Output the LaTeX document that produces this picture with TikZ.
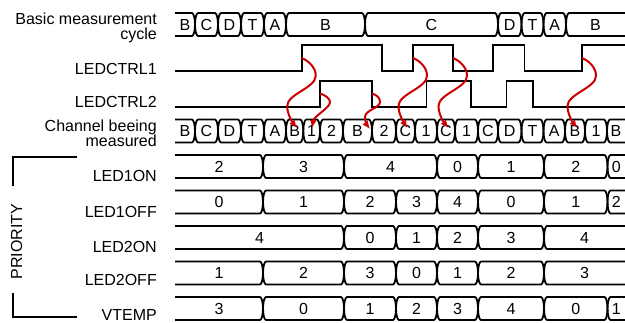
\documentclass[tikz,border=0pt]{standalone}
\usepackage{fontspec}
\setmainfont{Liberation Sans}
\usetikzlibrary{arrows.meta}
\definecolor{arrowred}{RGB}{204,0,0}
\newcommand\tdrow[4]{%
  \foreach \xa/\xb/\lab [count=\i] in {#4}{%
    \pgfmathsetmacro\sa{\xa-15*(\xa<176)}%
    \pgfmathsetmacro\sb{\xb+15*(\xb>624)}%
    \pgfmathsetmacro\ym{(#2+#3)/2}%
    \pgfmathsetmacro\cx{(\xa+\xb)/2}%
    \draw[cellline] (\sa,\ym) .. controls (\sa,#2+5) and (\sa+1.5,#2) .. (\sa+3,#2) -- (\sb-3,#2) .. controls (\sb-1.5,#2) and (\sb,#2+5) .. (\sb,\ym) .. controls (\sb,#3-5) and (\sb-1.5,#3) .. (\sb-3,#3) -- (\sa+3,#3) .. controls (\sa+1.5,#3) and (\sa,#3-5) .. cycle;
    \node[celltext] (#1-\i) at (\cx,\ym) {\lab};
  }}
\begin{document}
\begin{tikzpicture}[x=1pt,y=-1pt,
  cellline/.style={line width=1.8pt, line join=round},
  celltext/.style={font=\fontsize{16}{19}\selectfont, inner sep=0pt},
  lbl/.style={font=\fontsize{16}{19}\selectfont, inner sep=0pt, anchor=base east},
  wave/.style={line width=1.8pt},
  redarrow/.style={draw=arrowred, line width=2pt, -{Latex[length=8pt,width=7pt]}},
  bracket/.style={line width=1.8pt}]
\useasboundingbox (0,0) rectangle (625,322);

% labels
\node[lbl] (l1) at (157,24) {Basic measurement};
\node[lbl] (l2) at (157,39.5) {cycle};
\node[lbl] (l3) at (157,74) {LEDCTRL1};
\node[lbl] (l4) at (157,107.5) {LEDCTRL2};
\node[lbl] (l5) at (157,131) {Channel beeing};
\node[lbl] (l6) at (157,146.5) {measured};
\node[lbl] (l7) at (157,181) {LED1ON};
\node[lbl] (l8) at (157,217) {LED1OFF};
\node[lbl] (l9) at (157,252) {LED2ON};
\node[lbl] (l10) at (157,285) {LED2OFF};
\node[lbl] (l11) at (157,320) {VTEMP};

% priority bracket
\draw[bracket] (77,157) -- (13.3,157) -- (13.3,186);
\draw[bracket] (13.3,293) -- (13.3,316.7) -- (77,316.7);
\node[celltext, rotate=90] (prio) at (16.5,241.5) {PRIORITY};

\begin{scope}
\clip (175,0) rectangle (625,322);
\tdrow{top}{13}{36}{175/195/B, 195/218/C, 218/241/D, 241/264/T, 264/286/A, 286/365/B, 365/498/C, 498/521.5/D, 521.5/543.5/T, 543.5/566/A, 566/625/B}
\tdrow{ch}{119.5}{142.5}{175/195/B, 195/218/C, 218/241/D, 241/264/T, 264/286/A, 286/303.3/B, 303.3/320/1, 320/343/2, 343/372/B, 372/396/2, 396/415/C, 415/437/1, 437/455/C, 455/478/1, 478/498/C, 498/521.5/D, 521.5/543.5/T, 543.5/565/A, 565/585/B, 585/607/1, 607/625/B}
\tdrow{aon}{155}{178}{175/263/2, 263/344/3, 344/437/4, 437/478/0, 478/544/1, 544/607.5/2, 607.5/625/0}
\tdrow{aoff}{190.5}{213.5}{175/263/0, 263/344/1, 344/396/2, 396/437/3, 437/478/4, 478/544/0, 544/607.5/1, 607.5/625/2}
\tdrow{bon}{226}{249}{175/344/4, 344/396/0, 396/437/1, 437/478/2, 478/544/3, 544/625/4}
\tdrow{boff}{261.5}{284.5}{175/263/1, 263/344/2, 344/396/3, 396/437/0, 437/478/1, 478/544/2, 544/625/3}
\tdrow{vt}{297}{320}{175/263/3, 263/344/0, 344/396/1, 396/437/2, 437/478/3, 478/544/4, 544/607.5/0, 607.5/625/1}
\end{scope}

% LED control waveforms
\draw[wave] (175,71) -- (301.7,71) -- (301.7,45) -- (381.7,45) -- (381.7,71) -- (413,71) -- (413,45) -- (453,45) -- (453,71) -- (493,71) -- (493,45) -- (524.5,45) -- (524.5,71) -- (582,71) -- (582,45) -- (626,45);
\draw[wave] (175,106.7) -- (320,106.7) -- (320,80.7) -- (372,80.7) -- (372,106.7) -- (426.5,106.7) -- (426.5,80.7) -- (471,80.7) -- (471,106.7) -- (506.5,106.7) -- (506.5,80.7) -- (533.3,80.7) -- (533.3,106.7) -- (626,106.7);

% arrows
\coordinate (s1) at (301.7,58);   \coordinate (e1) at (297,128);
\coordinate (s2) at (320,93.5);   \coordinate (e2) at (312,128);
\coordinate (s3) at (372,93.5);   \coordinate (e3) at (370,129);
\coordinate (s4) at (413,58);     \coordinate (e4) at (407.5,128);
\coordinate (s5) at (453,58);     \coordinate (e5) at (448.5,128);
\coordinate (s6) at (582,58);     \coordinate (e6) at (577.3,128);

\draw[redarrow] (s1) .. controls (309,61) and (316,68) .. (315.7,76) .. controls (315.4,88) and (287.2,94) .. (287.2,106) .. controls (287.2,114) and (292.2,122) .. (e1);
\draw[redarrow] (s2) .. controls (325,95) and (330,98.5) .. (330,102) .. controls (330,108) and (314,116) .. (e2);
\draw[redarrow] (s3) .. controls (377,95) and (380,98) .. (380,102) .. controls (380,108) and (365,110) .. (365,117) .. controls (365,121) and (367,125) .. (e3);
\draw[redarrow] (s4) .. controls (420.3,61) and (427.3,68) .. (427,76) .. controls (426.7,88) and (398.5,94) .. (398.5,106) .. controls (398.5,114) and (403.5,122) .. (e4);
\draw[redarrow] (s5) .. controls (460.3,61) and (467.3,68) .. (467,76) .. controls (466.7,88) and (438.5,94) .. (438.5,106) .. controls (438.5,114) and (443.5,122) .. (e5);
\draw[redarrow] (s6) .. controls (589.3,61) and (596.3,68) .. (596,76) .. controls (595.7,88) and (567.5,94) .. (567.5,106) .. controls (567.5,114) and (572.5,122) .. (e6);
\end{tikzpicture}
\end{document}
